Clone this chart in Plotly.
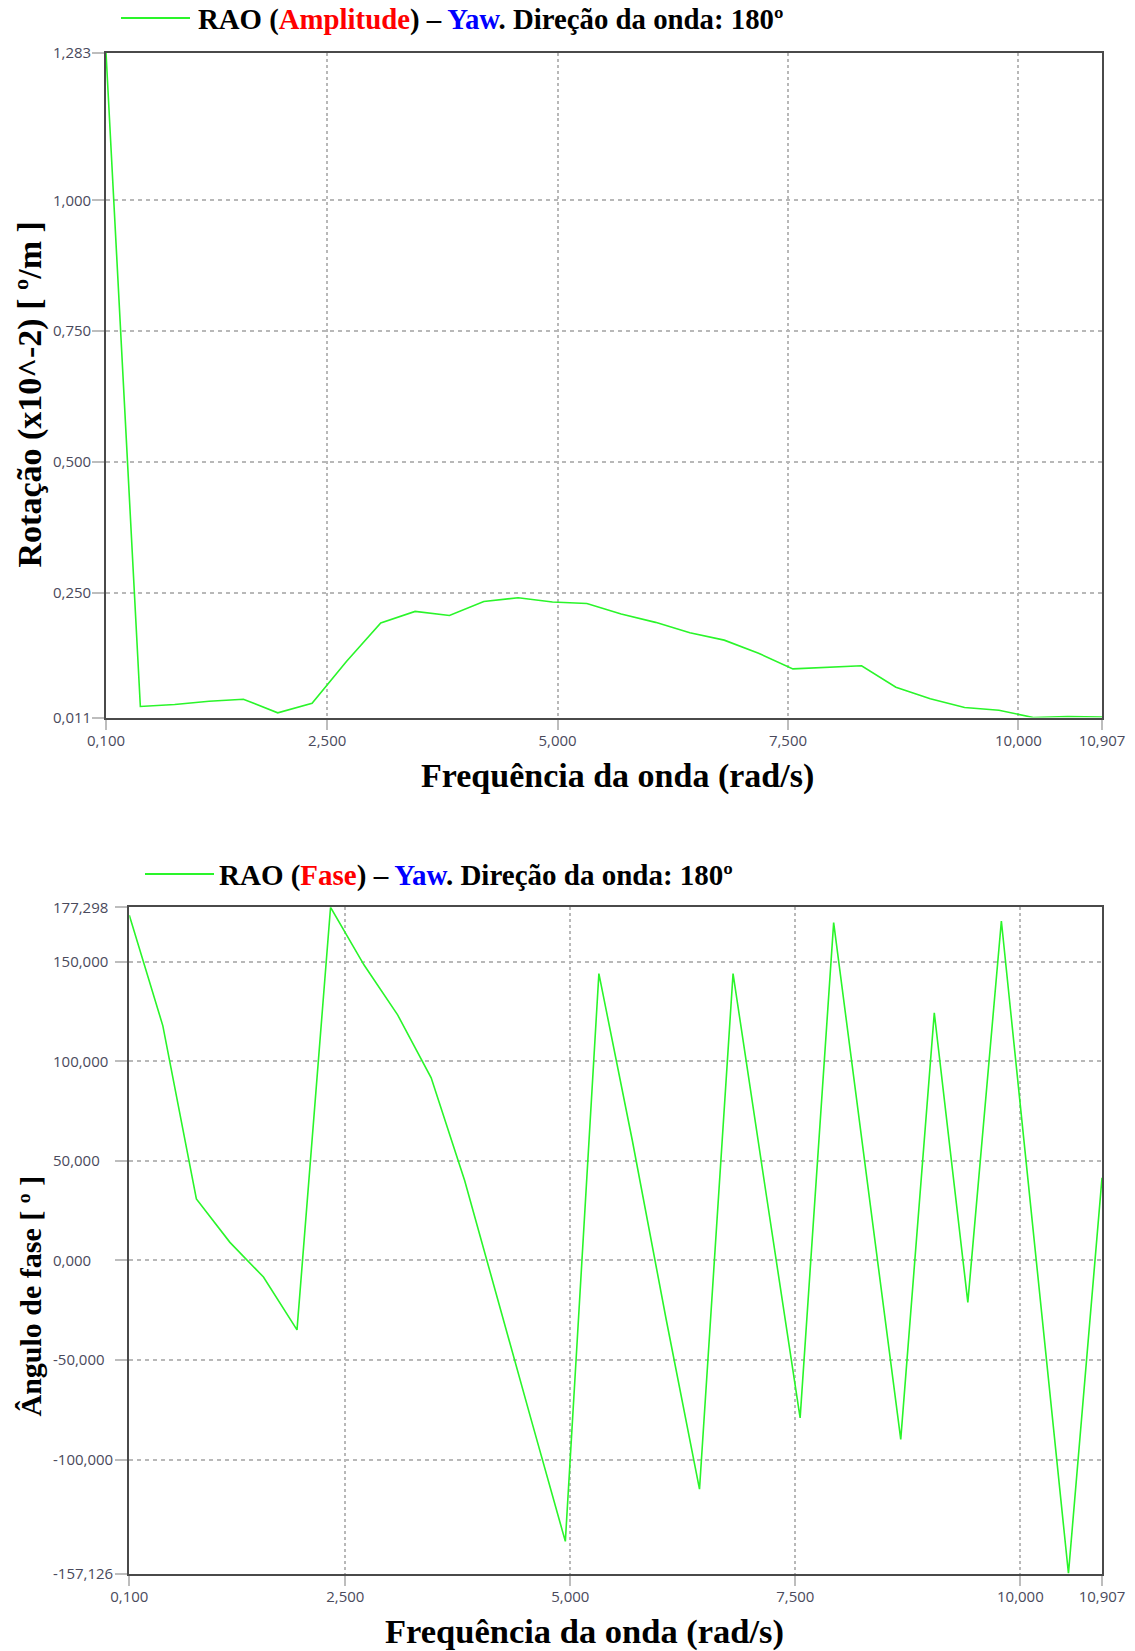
import plotly.graph_objects as go

# ---------------- data ----------------
freq = [0.100, 0.4727, 0.8453, 1.2180, 1.5906, 1.9633, 2.3359, 2.7086, 3.0812, 3.4539,
        3.8266, 4.1992, 4.5719, 4.9445, 5.3172, 5.6898, 6.0625, 6.4351, 6.8078, 7.1804,
        7.5531, 7.9257, 8.2984, 8.6710, 9.0437, 9.4163, 9.7890, 10.1616, 10.5343, 10.907]

amplitude = [1.283, 0.032, 0.036, 0.042, 0.046, 0.020, 0.038, 0.118, 0.192, 0.214,
             0.206, 0.233, 0.240, 0.232, 0.229, 0.209, 0.193, 0.173, 0.159, 0.134,
             0.104, 0.107, 0.110, 0.069, 0.047, 0.030, 0.025, 0.011, 0.013, 0.012]

phase = [173.3, 117.8, 30.9, 9.1, -8.3, -34.8, 177.298, 148.3, 123.3, 91.7,
         40.0, -21.0, -81.0, -141.0, 144.0, 60.0, -29.0, -114.8, 144.0, 32.0,
         -79.0, 169.6, 39.0, -89.8, 124.3, -21.0, 170.4, 7.0, -157.126, 41.5]

x_ticks = [0.100, 2.500, 5.000, 7.500, 10.000, 10.907]
x_ticktext = ["0,100", "2,500", "5,000", "7,500", "10,000", "10,907"]

amp_ticks = [0.011, 0.250, 0.500, 0.750, 1.000, 1.283]
amp_ticktext = ["0,011", "0,250", "0,500", "0,750", "1,000", "1,283"]

phase_ticks = [-157.126, -100, -50, 0, 50, 100, 150, 177.298]
phase_ticktext = ["-157,126", "-100,000", "-50,000", "0,000", "50,000", "100,000", "150,000", "177,298"]

title_amp = ("<b>RAO (<span style='color:#ff0000'>Amplitude</span>) – "
             "<span style='color:#0000ff'>Yaw</span>. Direção da onda: 180º</b>")
title_phase = ("<b>RAO (<span style='color:#ff0000'>Fase</span>) – "
               "<span style='color:#0000ff'>Yaw</span>. Direção da onda: 180º</b>")
xlabel = "<b>Frequência da onda (rad/s)</b>"
ylabel_amp = "<b>Rotação (x10^-2) [ º/m ]</b>"
ylabel_phase = "<b>Ângulo de fase [ º ]</b>"

# ---------------- layout helpers ----------------
W, H = 1135, 1651
def px(x):
    return x / W
def py(y):
    return 1 - y / H

GREEN = "#2af52a"
GRID = "#b8b8b8"
FRAME = "#4a4a4a"
TICKC = "#bdbdbd"
TICKFONT = dict(family="Open Sans", size=15, color="#4a4a5c")
SERIF = "Liberation Serif"

fig = go.Figure()
fig.add_trace(go.Scatter(x=freq, y=amplitude, mode="lines", line=dict(color=GREEN, width=1.6),
                         xaxis="x", yaxis="y", showlegend=False))
fig.add_trace(go.Scatter(x=freq, y=phase, mode="lines", line=dict(color=GREEN, width=1.6),
                         xaxis="x2", yaxis="y2", showlegend=False))
# invisible carriers for left-aligned tick-label axes
fig.add_trace(go.Scatter(x=freq, y=amplitude, mode="lines", line=dict(width=0), opacity=0,
                         hoverinfo="skip", xaxis="x", yaxis="y3", showlegend=False))
fig.add_trace(go.Scatter(x=freq, y=phase, mode="lines", line=dict(width=0), opacity=0,
                         hoverinfo="skip", xaxis="x2", yaxis="y4", showlegend=False))

xcommon = dict(tickmode="array", tickvals=x_ticks, ticktext=x_ticktext, range=[0.100, 10.907],
               showgrid=True, gridcolor=GRID, gridwidth=1.5, griddash="dot",
               showline=True, linecolor=FRAME, linewidth=2, mirror=True,
               ticks="outside", ticklen=10, tickwidth=2, tickcolor=TICKC,
               tickfont=TICKFONT, ticklabelstandoff=-2, zeroline=False, automargin=False)
ycommon = dict(tickmode="array", showgrid=True, gridcolor=GRID, gridwidth=1.5, griddash="4px,4px",
               showline=True, linecolor=FRAME, linewidth=2, mirror=True,
               ticks="outside", ticklen=12, tickwidth=2, tickcolor=TICKC,
               showticklabels=False, zeroline=False, automargin=False)
yaux = dict(tickmode="array", showgrid=False, showline=False, zeroline=False, ticks="",
            side="right", anchor="free", tickfont=TICKFONT, ticklabelstandoff=0, automargin=False)

fig.update_layout(
    width=W, height=H, margin=dict(l=0, r=0, t=0, b=0, pad=0, autoexpand=False),
    paper_bgcolor="white", plot_bgcolor="white", showlegend=False,
    xaxis=dict(domain=[px(106), px(1102)], anchor="y", **xcommon),
    yaxis=dict(domain=[py(717.5), py(52.5)], anchor="x", range=[0.011, 1.283],
               tickvals=amp_ticks, **ycommon),
    xaxis2=dict(domain=[px(129.3), px(1102)], anchor="y2", **xcommon),
    yaxis2=dict(domain=[py(1573.5), py(907.3)], anchor="x2", range=[-157.126, 177.298],
                tickvals=phase_ticks, **ycommon),
    yaxis3=dict(overlaying="y", position=px(52), range=[0.011, 1.283],
                tickvals=amp_ticks, ticktext=amp_ticktext, **yaux),
    yaxis4=dict(overlaying="y2", position=px(52), range=[-157.126, 177.298],
                tickvals=phase_ticks, ticktext=phase_ticktext, **yaux),
)

# legend-like headers
fig.add_shape(type="line", xref="paper", yref="paper", x0=px(121), x1=px(190), y0=py(18), y1=py(18),
              line=dict(color=GREEN, width=2))
fig.add_shape(type="line", xref="paper", yref="paper", x0=px(145), x1=px(214), y0=py(874), y1=py(874),
              line=dict(color=GREEN, width=2))

ann = []
ann.append(dict(text=title_amp, x=px(196), y=py(19), xanchor="left", yanchor="middle",
                font=dict(family=SERIF, size=28.8, color="black")))
ann.append(dict(text=title_phase, x=px(217), y=py(875), xanchor="left", yanchor="middle",
                font=dict(family=SERIF, size=29, color="black")))
ann.append(dict(text=xlabel, x=px(617.5), y=py(776), xanchor="center", yanchor="middle",
                font=dict(family=SERIF, size=34, color="black")))
ann.append(dict(text=xlabel, x=px(584), y=py(1631), xanchor="center", yanchor="middle",
                font=dict(family=SERIF, size=34.5, color="black")))
ann.append(dict(text=ylabel_amp, x=px(29.5), y=py(395), xanchor="center", yanchor="middle",
                textangle=-90, font=dict(family=SERIF, size=34, color="black")))
ann.append(dict(text=ylabel_phase, x=px(29.5), y=py(1296), xanchor="center", yanchor="middle",
                textangle=-90, font=dict(family=SERIF, size=30, color="black")))
for a in ann:
    a.update(xref="paper", yref="paper", showarrow=False)
fig.update_layout(annotations=ann)

fig.write_html("out.html")
